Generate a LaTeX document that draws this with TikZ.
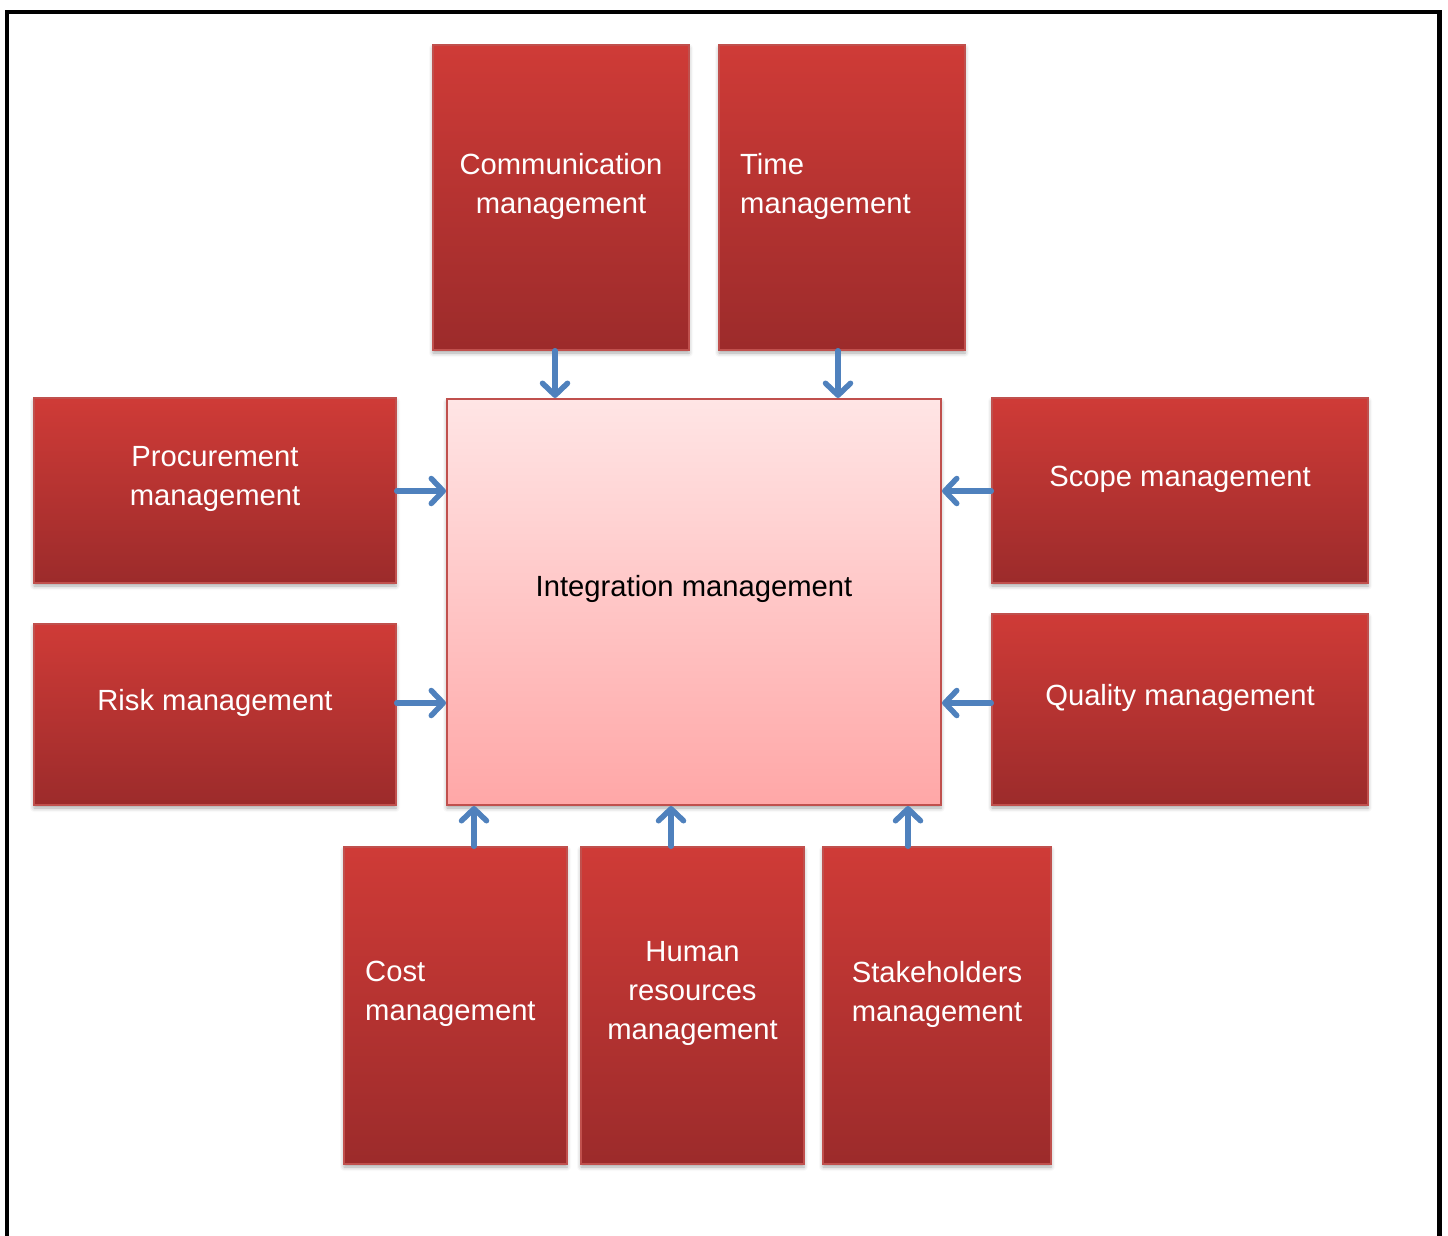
\documentclass[tikz,border=0pt]{standalone}
\usepackage{fontspec}
\setmainfont{Liberation Sans}
\usetikzlibrary{arrows.meta,shadows.blur}
\definecolor{redtop}{RGB}{207,59,55}
\definecolor{redbot}{RGB}{156,43,43}
\definecolor{redline}{RGB}{192,80,77}
\definecolor{pinktop}{RGB}{255,229,229}
\definecolor{pinkbot}{RGB}{255,167,167}
\definecolor{arrowblue}{RGB}{79,129,189}
\tikzset{
  redbox/.style={draw=redline, line width=1.5pt, top color=redtop, bottom color=redbot,
    blur shadow={shadow xshift=0pt, shadow yshift=-3pt, shadow blur radius=4pt, shadow opacity=35},
    inner sep=0pt},
  intbox/.style={draw=redline, line width=2pt, top color=pinktop, bottom color=pinkbot,
    blur shadow={shadow xshift=0pt, shadow yshift=-3pt, shadow blur radius=4pt, shadow opacity=35},
    inner sep=0pt},
  boxtext/.style={text=white, font=\fontsize{29.2}{39}\selectfont, align=center, inner sep=0pt},
  lefttext/.style={text=white, font=\fontsize{29.2}{39}\selectfont, align=left, inner sep=0pt, anchor=west},
  arr/.style={draw=arrowblue, line width=5.5pt, line cap=round,
    -{Straight Barb[round, length=12pt, width=25pt]}}
}
\begin{document}
\begin{tikzpicture}[x=1pt,y=-1pt]
\useasboundingbox (0,0) rectangle (1448,1236);
% frame
\draw[line width=4.5pt, line join=miter] (7,1245) -- (7,12) -- (1439.5,12) -- (1439.5,1245);

% boxes
\node[redbox, minimum width=256pt, minimum height=305pt] (comm) at (561,197.5) {};
\node[redbox, minimum width=246pt, minimum height=305pt] (time) at (842,197.5) {};
\node[redbox, minimum width=362pt, minimum height=185pt] (proc) at (215,490.5) {};
\node[intbox, minimum width=494pt, minimum height=406pt] (integ) at (694,602) {};
\node[redbox, minimum width=376pt, minimum height=185pt] (scope) at (1180,490.5) {};
\node[redbox, minimum width=362pt, minimum height=181pt] (risk) at (215,714.5) {};
\node[redbox, minimum width=376pt, minimum height=191pt] (qual) at (1180,709.5) {};
\node[redbox, minimum width=223pt, minimum height=317pt] (cost) at (455.5,1005.5) {};
\node[redbox, minimum width=223pt, minimum height=317pt] (human) at (692.5,1005.5) {};
\node[redbox, minimum width=228pt, minimum height=317pt] (stake) at (937,1005.5) {};

% texts
\node[boxtext] (commT) at (561,186) {Communication\\management};
\node[lefttext] (timeT) at (740,186) {Time\\management};
\node[boxtext] (procT) at (215,479) {Procurement\\management};
\node[boxtext, text=black] (integT) at (694,589) {Integration management};
\node[boxtext] (scopeT) at (1180,479) {Scope management};
\node[boxtext] (riskT) at (215,703) {Risk management};
\node[boxtext] (qualT) at (1180,698) {Quality management};
\node[lefttext] (costT) at (365,994) {Cost\\management};
\node[boxtext] (humanT) at (692.5,993.5) {Human\\resources\\management};
\node[boxtext] (stakeT) at (937,994) {Stakeholders\\management};

% arrow lanes
\coordinate (xc) at (555,0);
\coordinate (xt) at (838,0);
\coordinate (yu) at (0,491);
\coordinate (yl) at (0,703);
\coordinate (xa) at (474,0);
\coordinate (xb) at (671,0);
\coordinate (xs) at (908,0);

\draw[arr] (comm.south -| xc) -- (integ.north -| xc);
\draw[arr] (time.south -| xt) -- (integ.north -| xt);
\draw[arr] (proc.east |- yu) -- (integ.west |- yu);
\draw[arr] (risk.east |- yl) -- (integ.west |- yl);
\draw[arr] (scope.west |- yu) -- (integ.east |- yu);
\draw[arr] (qual.west |- yl) -- (integ.east |- yl);
\draw[arr] (cost.north -| xa) -- (integ.south -| xa);
\draw[arr] (human.north -| xb) -- (integ.south -| xb);
\draw[arr] (stake.north -| xs) -- (integ.south -| xs);
\end{tikzpicture}
\end{document}
